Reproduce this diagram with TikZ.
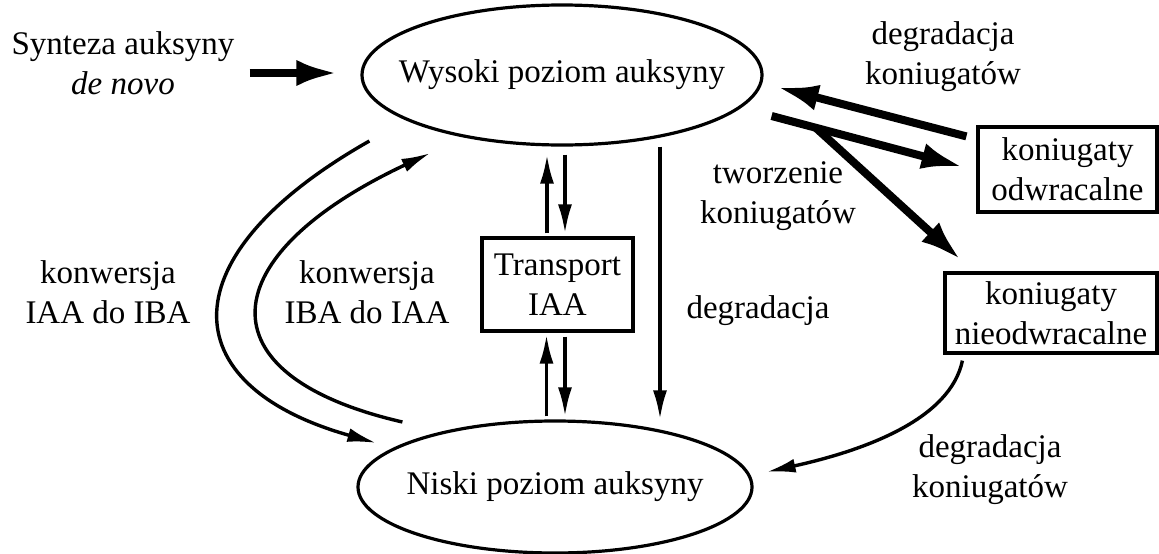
\documentclass[tikz,border=0pt]{standalone}
\usepackage{fontspec}
\setmainfont{Liberation Serif}
\usetikzlibrary{arrows.meta,shapes.geometric,calc}
\begin{document}
\begin{tikzpicture}[x=1pt,y=-1pt,
  every node/.style={font=\fontsize{33}{40}\selectfont},
  lbl/.style={align=center, inner sep=0pt},
  oval/.style={draw, ellipse, line width=3.2pt, inner sep=0pt},
  box/.style={draw, rectangle, line width=3.2pt, inner sep=0pt, align=center},
  thinarrow/.style={line width=3.4pt, -{Latex[length=29pt,width=14pt]}},
  boldarrow/.style={line width=8pt, -{Latex[length=42pt,width=26pt]}},
]
\useasboundingbox (0,0) rectangle (1159,554);

% levels of auxin
\node[oval, minimum width=400pt, minimum height=140pt] (hi) at (562,75) {};
\node[lbl] (hit) at (hi.center) {Wysoki poziom auksyny};
\node[oval, minimum width=394pt, minimum height=132pt] (lo) at (555,487) {};
\node[lbl] (lot) at (lo.center) {Niski poziom auksyny};

% boxes
\node[box, minimum width=151pt, minimum height=93pt] (tr) at (557.5,284.5) {Transport\\IAA};
\node[box, minimum width=179pt, minimum height=85pt] (odw) at (1067.5,169.5) {koniugaty\\odwracalne};
\node[box, minimum width=212pt, minimum height=80pt] (nie) at (1051,313) {koniugaty\\nieodwracalne};

% labels
\node[lbl] (syn) at (123,63) {Synteza auksyny\\\textit{de novo}};
\node[lbl] (dk1) at (943,57) {degradacja\\koniugatów};
\node[lbl] (tw) at (778,196) {tworzenie\\koniugatów};
\node[lbl] (k1) at (108,292) {konwersja\\IAA do IBA};
\node[lbl] (k2) at (367,292) {konwersja\\IBA do IAA};
\node[lbl] (dg) at (758,311) {degradacja};
\node[lbl] (dk2) at (990,470) {degradacja\\koniugatów};

% de novo synthesis
\coordinate (s0) at ($(syn.east)+(15,10)$);
\draw[boldarrow] (s0) -- ($(hi.west |- s0)+(-22,0)$);

% conjugates
\coordinate (b0) at ($(odw.north west)+(-10,11)$);
\coordinate (b1) at ($(hi.east)+(13,12)$);
\draw[boldarrow] (b0) -- (b1);
\coordinate (f0) at ($(hi.east)+(8,41)$);
\coordinate (f1) at ($(odw.west)+(-13,-2.5)$);
\draw[boldarrow] (f0) -- (f1);
\coordinate (f2) at ($(f0)!0.23!(f1)$);
\draw[boldarrow] (f2) -- ($(nie.north west)+(18,-11)$);

% degradation of irreversible conjugates
\coordinate (n0) at ($(nie.south west)+(19,6)$);
\coordinate (n1) at ($(lo.east)+(13,-15)$);
\draw[thinarrow] (n0) .. controls +(-12,58) and +(100,-22) .. (n1);

% transport
\coordinate (tu) at ($(tr.north)+(-10.5,0)$);
\coordinate (td) at ($(tr.north)+(7.5,0)$);
\draw[thinarrow, shorten <=3pt, shorten >=8pt] (tu) -- (tu |- hi.south);
\draw[thinarrow, shorten <=8pt, shorten >=3pt] (td |- hi.south) -- (td);
\coordinate (bu) at ($(tr.south)+(-11,0)$);
\coordinate (bd) at ($(tr.south)+(7.5,0)$);
\draw[thinarrow, shorten <=3pt, shorten >=2pt] (bu |- lo.north) -- (bu);
\draw[thinarrow, shorten <=4pt, shorten >=3pt] (bd) -- (bd |- lo.north);

% degradation
\coordinate (dv) at ($(hi.south)+(98,0)$);
\draw[thinarrow] (dv) -- (dv |- lo.north);

% IAA <-> IBA conversion
\coordinate (o1) at ($(hi.west)+(9,66)$);
\coordinate (o2) at ($(lo.west)+(20,-44)$);
\draw[thinarrow] (o1) .. controls (168,255) and (170,385) .. (o2);
\coordinate (i1) at ($(lo.west)+(46,-65)$);
\coordinate (i2) at ($(hi.west)+(70,78)$);
\draw[thinarrow] (i1) .. controls (198,375) and (213,255) .. (i2);
\end{tikzpicture}
\end{document}
